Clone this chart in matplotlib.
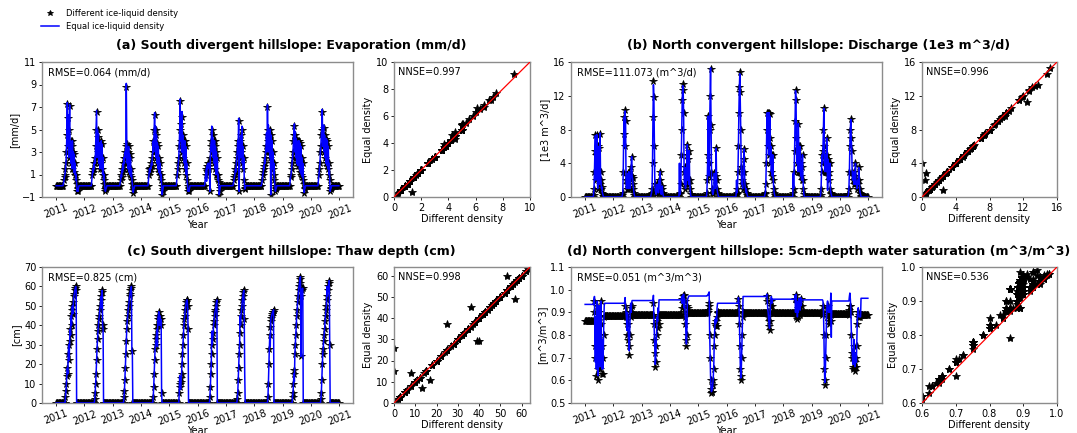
import numpy as np
import matplotlib
matplotlib.use("Agg")
import matplotlib.pyplot as plt

plt.rcParams['font.family'] = ['DejaVu Sans']
plt.rcParams['font.size'] = 7

YEARS = [2011, 2012, 2013, 2014, 2015, 2016, 2017, 2018, 2019, 2020]
# day-of-year of the readings taken through each warm season (every 6 days)
SUMMER_DAYS = list(range(102, 295, 6))
# winter readings sit on a flat level (before / after each season)
WINTER_PRE = list(range(0, 96, 8))
WINTER_POST = list(range(302, 366, 8))

# (a) evaporation, mm/d  -- "different density" run
evap_diff = [
    [0.5, 0.8, 1.0, 1.5, 2.0, 3.0, 4.5, 7.3, 3.5, 6.0, 2.5, 5.0, 7.1, 3.0, 4.0, 2.0, 3.5, 1.5, 4.0, 2.0, 3.0, 1.2, 2.8, 1.0, 2.0, 0.5, 1.0, 0.2, -0.5, -0.3, -0.5, -0.2, 0.0],
    [1.0, 1.5, 1.2, 2.0, 1.5, 2.5, 2.0, 3.5, 5.0, 6.6, 2.5, 5.0, 3.0, 4.3, 2.0, 3.8, 1.5, 3.5, 2.0, 4.0, 1.5, 3.7, 1.0, 2.5, 0.5, 1.0, 0.2, -0.3, -0.5, -0.3, -0.2, 0.0, 0.0],
    [0.5, 1.0, 0.8, 1.5, 1.2, 2.0, 1.5, 2.5, 2.0, 3.0, 2.5, 3.5, 8.8, 3.7, 2.0, 3.0, 1.5, 3.5, 1.2, 2.8, 1.0, 2.5, 0.8, 1.5, 0.5, 0.2, -0.4, -0.6, -0.3, -0.2, 0.0, 0.0, 0.0],
    [1.0, 1.5, 1.2, 1.6, 1.5, 2.0, 1.8, 2.5, 3.0, 4.0, 3.0, 5.0, 6.3, 3.5, 5.0, 2.5, 4.5, 2.0, 3.8, 1.5, 3.5, 1.2, 2.5, 1.0, 2.0, 0.5, 1.0, 0.0, -0.8, -0.5, -0.3, 0.0, 0.0],
    [1.0, 1.5, 2.0, 2.5, 3.5, 5.0, 7.5, 4.0, 5.5, 3.0, 6.1, 3.0, 4.5, 2.5, 4.0, 2.0, 4.0, 1.5, 3.5, 1.0, 2.0, 0.5, 0.0, -0.5, -0.3, -0.5, -0.2, 0.0, 0.0, 0.0, 0.0, 0.0, 0.0],
    [1.0, 1.5, 1.3, 1.8, 1.5, 2.0, 1.8, 2.0, 1.5, -0.5, 2.5, 3.5, 4.0, 5.0, 3.0, 4.5, 2.5, 4.0, 2.0, 4.0, 1.5, 3.5, 1.0, 3.0, 1.0, 2.5, 0.5, 1.0, 0.3, -0.8, -0.5, -0.2, 0.0],
    [0.5, 0.8, 1.0, 1.5, 1.2, 2.0, 2.5, 3.0, 4.0, 3.5, 5.8, -0.5, 3.0, 4.0, 2.5, 4.5, 3.0, 5.0, 2.0, 3.5, 1.5, 2.5, 0.5, -0.3, -0.2, 0.0, 0.0, 0.0, 0.0, 0.0, 0.0, 0.0, 0.0],
    [0.5, 1.0, 1.2, 1.8, 1.5, 2.5, 2.0, 3.0, 3.5, 4.5, 3.0, 7.0, 4.0, 5.0, 3.0, 4.5, 2.5, 5.0, -0.8, 4.5, 2.0, 4.0, 1.5, 3.0, 1.0, 2.0, 0.5, 0.0, -0.5, -0.3, -0.2, 0.0, 0.0],
    [0.8, 1.0, 1.5, 2.0, 2.5, 3.0, 4.0, 4.5, 5.3, 3.0, 4.5, 2.5, 4.2, 2.0, 3.5, 1.8, 4.0, 2.0, 4.0, 1.5, 3.8, 1.2, 3.5, 1.0, 2.5, 0.8, 2.0, 0.5, 0.2, -0.6, -0.3, -0.2, 0.0],
    [1.0, 1.5, 2.0, 3.0, 3.5, 4.5, 5.0, 6.6, 3.5, 4.5, 5.1, 3.0, 4.5, 2.5, 4.0, 2.0, 4.2, 1.8, 4.0, 1.5, 3.5, 1.0, 2.0, 0.5, -0.5, -0.3, -0.2, 0.0, 0.0, 0.0, 0.0, 0.0, 0.0],
]
# readings where the "equal density" run differs: (year, reading index, value)
evap_equal_edits = [
    (2011, 7, 7.4), (2011, 9, 6.3), (2011, 12, 7.2), (2012, 9, 6.7), (2012, 13, 4.6),
    (2013, 12, 9.1), (2013, 13, 3.9), (2014, 12, 6.5), (2014, 14, 5.3), (2015, 6, 7.7),
    (2015, 8, 5.8), (2015, 10, 6.6), (2016, 2, 0.4), (2016, 13, 5.3), (2016, 15, 4.3),
    (2017, 10, 6.0), (2017, 17, 5.3), (2018, 9, 4.7), (2018, 11, 7.2), (2018, 13, 5.4),
    (2019, 8, 5.5), (2019, 10, 4.8), (2020, 7, 6.8), (2020, 10, 5.4),
]
evap_level = [0.0, 0.0, 0.0, 0.0, 0.0, 0.0, 0.0, 0.0, 0.0, 0.0, 0.0]

# (b) discharge, 1e3 m^3/d
disc_diff = [
    [0, 0.2, 1.0, 3.0, 5.5, 7.3, 2.0, 5.0, 7.4, 3.0, 1.0, 6.0, 2.0, 5.8, 1.5, 7.5, 3.0, 2.0, 1.0, 1.2, 0.5, 0.3, 0.1, 0, 0, 0, 0, 0, 0, 0, 0, 0, 0],
    [0, 0, 0.2, 0.5, 3.0, 7.5, 9.5, 6.0, 10.3, 9.0, 2.0, 1.0, 2.5, 1.5, 2.8, 1.0, 3.0, 1.2, 2.5, 1.0, 2.0, 3.5, 4.8, 2.5, 2.2, 1.5, 1.0, 0.5, 0.2, 0, 0, 0, 0],
    [0, 0, 0, 0.3, 0.5, 1.0, 4.0, 9.5, 13.7, 11.8, 6.0, 1.5, 0.8, 0.5, 0.3, 0.5, 1.5, 0.8, 1.5, 0.5, 2.0, 1.0, 3.0, 2.0, 0.5, 0.3, 1.0, 1.3, 0.5, 0.2, 0, 0, 0],
    [0, 0, 0, 0, 0.3, 0.5, 1.5, 5.0, 8.0, 11.5, 13.4, 12.7, 10.0, 3.0, 1.5, 3.5, 1.0, 2.0, 1.5, 5.0, 6.2, 2.0, 4.5, 1.5, 5.5, 2.0, 1.0, 0.3, 0, 0, 0, 0, 0],
    [0, 0.5, 2.0, 5.0, 9.6, 4.0, 2.5, 8.0, 12.0, 15.2, 8.5, 3.0, 1.0, 0.5, 0.3, 0.5, 1.0, 2.8, 2.0, 1.0, 2.5, 5.8, 2.0, 1.0, 0.5, 0.3, 0, 0, 0, 0, 0, 0, 0],
    [0, 0, 0, 0.2, 0.3, 0.5, 1.0, 3.0, 6.0, 10.0, 13.0, 14.8, 12.5, 8.0, 3.5, 1.5, 2.0, 1.0, 3.0, 4.5, 5.7, 3.0, 1.5, 1.0, 0.5, 1.0, 0.5, 0.2, 0, 0, 0, 0, 0],
    [0, 0, 0, 0, 0.3, 0.5, 1.5, 4.0, 8.0, 10.0, 6.0, 10.0, 5.0, 10.0, 7.0, 9.8, 4.0, 6.0, 3.0, 5.0, 2.5, 5.0, 2.0, 1.0, 0.5, 0.2, 0, 0, 0, 0, 0, 0, 0],
    [0, 0, 0, 0, 0.5, 1.0, 3.0, 5.5, 9.0, 12.7, 11.5, 7.0, 4.0, 5.5, 3.0, 8.7, 6.0, 3.0, 5.0, 6.0, 2.5, 4.0, 2.0, 3.5, 5.0, 2.0, 1.0, 0.3, 0, 0, 0, 0, 0],
    [0, 0, 0.2, 1.0, 3.0, 5.0, 4.0, 5.5, 8.0, 10.5, 6.0, 3.0, 4.5, 5.0, 3.0, 7.0, 5.0, 2.5, 4.5, 2.0, 4.0, 3.0, 4.0, 1.0, 0.5, 0.3, 0, 0, 0, 0, 0, 0, 0],
    [0, 0.3, 1.0, 3.0, 6.0, 8.0, 9.3, 7.0, 5.5, 3.0, 2.0, 2.5, 3.0, 1.5, 2.5, 1.5, 4.0, 2.0, 1.8, 1.0, 1.5, 2.0, 1.5, 3.5, 2.0, 1.0, 0.5, 0.3, 0.1, 0, 0, 0, 0],
]
disc_equal_edits = [
    (2011, 15, 7.6), (2012, 8, 10.2), (2013, 8, 13.3), (2014, 3, 4.0), (2014, 10, 13.2),
    (2015, 9, 15.3), (2016, 4, 2.0), (2016, 11, 14.6), (2016, 12, 11.3), (2017, 15, 9.6),
    (2018, 4, 2.8), (2018, 9, 12.6), (2019, 17, 0.8), (2020, 6, 9.2),
]
disc_level = [0, 0, 0, 0, 0, 0, 0, 0, 0, 0, 0]

# (c) thaw depth, cm
thaw_diff = [
    [0, 0, 0, 3, 6, 10, 14, 18, 15, 25, 30, 22, 32, 38, 35, 45, 40, 48, 50, 46, 52, 55, 56, 58, 59, 60, 58, 0, 0, 0, 0, 0, 0],
    [0, 0, 0, 0, 0, 2, 5, 10, 15, 22, 28, 33, 37, 40, 43, 45, 48, 50, 53, 55, 57, 58, 40, 38, 0, 0, 0, 0, 0, 0, 0, 0, 0],
    [0, 0, 0, 0, 0, 0, 0, 3, 6, 12, 18, 25, 32, 38, 42, 45, 48, 50, 52, 55, 56, 58, 59, 60, 27, 0, 0, 0, 0, 0, 0, 0, 0],
    [0, 0, 0, 0, 0, 0, 0, 0, 0, 3, 8, 15, 22, 28, 30, 33, 35, 38, 40, 43, 45, 47, 40, 45, 43, 40, 43, 5, 0, 0, 0, 0, 0],
    [0, 0, 0, 0, 5, 8, 10, 13, 11, 15, 20, 25, 30, 35, 40, 43, 45, 48, 50, 52, 53, 53, 50, 38, 0, 0, 0, 0, 0, 0, 0, 0, 0],
    [0, 0, 0, 0, 0, 0, 0, 0, 0, 3, 8, 15, 20, 25, 30, 33, 36, 40, 42, 45, 47, 48, 50, 52, 53, 0, 0, 0, 0, 0, 0, 0, 0],
    [0, 0, 0, 0, 0, 0, 0, 2, 5, 12, 18, 25, 30, 36, 40, 45, 48, 50, 53, 55, 57, 58, 43, 0, 0, 0, 0, 0, 0, 0, 0, 0, 0],
    [0, 0, 0, 0, 0, 0, 0, 0, 0, 0, 0, 0, 3, 10, 20, 28, 35, 39, 42, 44, 45, 46, 47, 47, 48, 0, 0, 0, 0, 0, 0, 0, 0],
    [0, 0, 0, 0, 3, 5, 10, 15, 17, 25, 30, 35, 40, 45, 48, 52, 55, 58, 60, 62, 64, 65, 24, 55, 58, 59, 59, 0, 0, 0, 0, 0, 0],
    [0, 0, 0, 0, 2, 5, 12, 20, 25, 28, 32, 35, 38, 42, 45, 48, 50, 53, 55, 58, 60, 62, 63, 30, 0, 0, 0, 0, 0, 0, 0, 0, 0],
]
thaw_equal_edits = [
    (2012, 20, 49), (2013, 25, 26), (2014, 18, 29), (2015, 5, 14), (2015, 7, 7),
    (2016, 13, 37), (2017, 13, 45), (2017, 23, 15), (2018, 17, 29), (2019, 8, 11),
    (2020, 17, 60),
]
thaw_level = [0, 0, 0, 0, 0, 0, 0, 0, 0, 0, 0]

# (d) 5cm-depth water saturation, m^3/m^3
sat_diff = [
    [0.86, 0.86, 0.90, 0.95, 0.75, 0.70, 0.85, 0.62, 0.75, 0.93, 0.65, 0.60, 0.80, 0.90, 0.70, 0.65, 0.85, 0.95, 0.70, 0.63, 0.75, 0.63, 0.70, 0.80, 0.88] + [0.885] * 8,
    [0.885] * 7 + [0.89, 0.93, 0.90, 0.88, 0.85, 0.80, 0.88, 0.85, 0.78, 0.75, 0.71, 0.80, 0.90, 0.92, 0.88, 0.93, 0.89] + [0.888] * 9,
    [0.888] * 8 + [0.94, 0.85, 0.78, 0.72, 0.66, 0.68, 0.75, 0.80, 0.86, 0.83, 0.88, 0.85] + [0.89] * 13,
    [0.89] * 8 + [0.96, 0.92, 0.97, 0.94, 0.975, 0.90, 0.95, 0.88, 0.85, 0.78, 0.75, 0.80, 0.93, 0.90, 0.92] + [0.895] * 10,
    [0.895, 0.895, 0.90, 0.90, 0.91, 0.93, 0.94, 0.80, 0.70, 0.60, 0.56, 0.545, 0.55, 0.55, 0.58, 0.60, 0.65, 0.75, 0.80, 0.85, 0.84, 0.86, 0.84, 0.88, 0.90] + [0.898] * 8,
    [0.898] * 8 + [0.96, 0.93, 0.85, 0.75, 0.65, 0.60, 0.62, 0.70, 0.80, 0.88, 0.90] + [0.897] * 14,
    [0.897] * 8 + [0.97, 0.95, 0.90, 0.88, 0.86, 0.84, 0.82, 0.86, 0.90, 0.93, 0.95, 0.90, 0.93] + [0.897] * 12,
    [0.897] * 8 + [0.96, 0.88, 0.975, 0.90, 0.94, 0.87, 0.92, 0.88, 0.95, 0.90, 0.93, 0.89, 0.96, 0.90, 0.93] + [0.895] * 10,
    [0.895] * 6 + [0.89, 0.93, 0.90, 0.80, 0.65, 0.58, 0.60, 0.70, 0.80, 0.88, 0.92, 0.93, 0.90, 0.85, 0.89, 0.86, 0.90, 0.88, 0.89, 0.86] + [0.892] * 7,
    [0.892, 0.892, 0.89, 0.91, 0.93, 0.93, 0.90, 0.80, 0.72, 0.70, 0.66, 0.65, 0.70, 0.75, 0.68, 0.64, 0.66, 0.70, 0.66, 0.75, 0.85, 0.88, 0.90, 0.88, 0.89, 0.88, 0.89] + [0.89] * 6,
]
sat_equal = [
    [0.935, 0.935, 0.95, 0.97, 0.78, 0.68, 0.88, 0.65, 0.78, 0.95, 0.67, 0.62, 0.82, 0.93, 0.72, 0.66, 0.88, 0.95, 0.72, 0.65, 0.78, 0.65, 0.73, 0.85, 0.93] + [0.94] * 8,
    [0.94] * 7 + [0.945, 0.965, 0.92, 0.90, 0.87, 0.82, 0.90, 0.87, 0.80, 0.77, 0.73, 0.82, 0.92, 0.94, 0.90, 0.94, 0.952] + [0.952] * 9,
    [0.952] * 8 + [0.975, 0.87, 0.80, 0.74, 0.67, 0.70, 0.77, 0.82, 0.88, 0.86, 0.92, 0.90] + [0.955] * 13,
    [0.955] * 8 + [0.97, 0.94, 0.975, 0.95, 0.98, 0.92, 0.96, 0.90, 0.87, 0.80, 0.76, 0.82, 0.95, 0.96, 0.965] + [0.972] * 10,
    [0.972, 0.972, 0.975, 0.975, 0.98, 0.985, 0.99, 0.82, 0.72, 0.62, 0.57, 0.55, 0.56, 0.56, 0.59, 0.62, 0.67, 0.78, 0.83, 0.87, 0.85, 0.88, 0.86, 0.92, 0.94] + [0.94] * 8,
    [0.94] * 8 + [0.965, 0.95, 0.87, 0.77, 0.67, 0.61, 0.63, 0.72, 0.83, 0.92, 0.97] + [0.97] * 14,
    [0.97] * 8 + [0.98, 0.96, 0.92, 0.90, 0.87, 0.85, 0.83, 0.88, 0.93, 0.95, 0.97, 0.94, 0.958] + [0.958] * 12,
    [0.958] * 8 + [0.975, 0.90, 0.98, 0.92, 0.95, 0.88, 0.93, 0.90, 0.96, 0.92, 0.94, 0.91, 0.965, 0.93, 0.95] + [0.955] * 10,
    [0.955] * 6 + [0.955, 0.95, 0.92, 0.82, 0.67, 0.59, 0.62, 0.72, 0.83, 0.90, 0.94, 0.95, 0.93, 0.90, 0.92, 0.90, 0.93, 0.92, 0.985, 0.79] + [0.95] * 7,
    [0.95, 0.95, 0.95, 0.97, 0.985, 0.96, 0.92, 0.82, 0.74, 0.72, 0.68, 0.67, 0.72, 0.78, 0.70, 0.66, 0.68, 0.72, 0.68, 0.78, 0.87, 0.90, 0.92, 0.89, 0.88, 0.88, 0.88, 0.88] + [0.962] * 5,
]
sat_level_diff = [0.86, 0.885, 0.888, 0.89, 0.895, 0.898, 0.897, 0.897, 0.895, 0.892, 0.89]
sat_level_equal = [0.935, 0.94, 0.952, 0.955, 0.972, 0.94, 0.97, 0.958, 0.955, 0.95, 0.962]


def apply_edits(rows, edits):
    """ Copy the rows and put in the readings that differ """
    rows = [list(r) for r in rows]
    for yr, i, v in edits:
        rows[YEARS.index(yr)][i] = v
    return rows


evap_equal = apply_edits(evap_diff, evap_equal_edits)
disc_equal = apply_edits(disc_diff, disc_equal_edits)
thaw_equal = apply_edits(thaw_diff, thaw_equal_edits)

panels = [
    dict(title="(a) South divergent hillslope: Evaporation (mm/d)", diff=evap_diff, equal=evap_equal,
         lev_d=evap_level, lev_e=evap_level, ylabel="[mm/d]", ylim=(-1, 11), yticks=[-1, 1, 3, 5, 7, 9, 11],
         rmse="RMSE=0.064 (mm/d)", nnse="NNSE=0.997", slim=(0, 10), sticks=[0, 2, 4, 6, 8, 10]),
    dict(title="(b) North convergent hillslope: Discharge (1e3 m^3/d)", diff=disc_diff, equal=disc_equal,
         lev_d=disc_level, lev_e=disc_level, ylabel="[1e3 m^3/d]", ylim=(0, 16), yticks=[0, 4, 8, 12, 16],
         rmse="RMSE=111.073 (m^3/d)", nnse="NNSE=0.996", slim=(0, 16), sticks=[0, 4, 8, 12, 16]),
    dict(title="(c) South divergent hillslope: Thaw depth (cm)", diff=thaw_diff, equal=thaw_equal,
         lev_d=thaw_level, lev_e=thaw_level, ylabel="[cm]", ylim=(0, 70), yticks=[0, 10, 20, 30, 40, 50, 60, 70],
         rmse="RMSE=0.825 (cm)", nnse="NNSE=0.998", slim=(0, 64), sticks=[0, 10, 20, 30, 40, 50, 60]),
    dict(title="(d) North convergent hillslope: 5cm-depth water saturation (m^3/m^3)", diff=sat_diff, equal=sat_equal,
         lev_d=sat_level_diff, lev_e=sat_level_equal, ylabel="[m^3/m^3]", ylim=(0.5, 1.1),
         yticks=[0.5, 0.6, 0.7, 0.8, 0.9, 1.0, 1.1],
         rmse="RMSE=0.051 (m^3/m^3)", nnse="NNSE=0.536", slim=(0.6, 1.0), sticks=[0.6, 0.7, 0.8, 0.9, 1.0]),
]


def build_series(season_vals, levels):
    """ Put the seasonal readings and the flat winter levels on one decimal-year axis """
    xs, ys = [], []
    for i, yr in enumerate(YEARS):
        assert len(season_vals[i]) == len(SUMMER_DAYS), (yr, len(season_vals[i]))
        for d in WINTER_PRE:
            xs.append(yr + d / 365.0)
            ys.append(levels[i])
        for d, v in zip(SUMMER_DAYS, season_vals[i]):
            xs.append(yr + d / 365.0)
            ys.append(v)
        for d in WINTER_POST:
            xs.append(yr + d / 365.0)
            ys.append(levels[i + 1])
    return np.array(xs), np.array(ys)


W, H = 1077, 433
fig = plt.figure(figsize=(W / 100, H / 100), dpi=100)


def px_axes(x0, y0, x1, y1):
    return fig.add_axes([x0 / W, 1 - y1 / H, (x1 - x0) / W, (y1 - y0) / H])


# pixel boxes of the axes (left, top, right, bottom)
ts_boxes = [(42, 62, 353, 197), (571, 62, 882, 197), (42, 267, 353, 403), (571, 267, 882, 403)]
sc_boxes = [(394, 62, 530, 197), (922, 62, 1057, 197), (394, 267, 530, 403), (922, 267, 1057, 403)]
title_pos = [(291, 46), (819, 46), (291, 252), (819, 252)]

SPINE = '#8c8c8c'

for n, (p, tb, sb, tp) in enumerate(zip(panels, ts_boxes, sc_boxes, title_pos)):
    xd, yd = build_series(p['diff'], p['lev_d'])
    xe, ye = build_series(p['equal'], p['lev_e'])

    ax = px_axes(*tb)
    ax.plot(xd, yd, '*', color='k', ms=5.5, mew=0.6, label='Different ice-liquid density', zorder=2)
    ax.plot(xe, ye, '-', color='#0000ff', lw=1.1, label='Equal ice-liquid density', zorder=3)
    ax.set_ylim(*p['ylim'])
    ax.set_yticks(p['yticks'])
    ax.set_xticks(range(2011, 2022))
    ax.set_xticklabels([str(y) for y in range(2011, 2022)], rotation=20)
    ax.set_ylabel(p['ylabel'], labelpad=2)
    ax.set_xlabel('Year', labelpad=0)
    ax.text(0.02, 0.925, p['rmse'], transform=ax.transAxes, va='center', ha='left')

    sx = px_axes(*sb)
    sx.plot(yd, ye, '*', color='k', ms=6, mew=0.6, zorder=2)
    sx.set_xlim(*p['slim'])
    sx.set_ylim(*p['slim'])
    lo, hi = sx.get_xlim()
    sx.plot([lo, hi], [lo, hi], '-', color='red', lw=0.9, zorder=3)
    sx.set_xticks(p['sticks'])
    sx.set_yticks(p['sticks'])
    sx.set_xlabel('Different density', labelpad=1)
    sx.set_ylabel('Equal density', labelpad=2)
    sx.text(0.03, 0.925, p['nnse'], transform=sx.transAxes, va='center', ha='left')

    for a in (ax, sx):
        for s in a.spines.values():
            s.set_color(SPINE)
            s.set_linewidth(1.0)
        a.tick_params(length=2.5, width=0.6, pad=1.5, labelsize=7)

    fig.text(tp[0] / W, 1 - tp[1] / H, p['title'], ha='center', va='center', fontsize=9, fontweight='bold')

    if n == 0:
        handles, labels = ax.get_legend_handles_labels()
        fig.legend(handles, labels, loc='upper left', bbox_to_anchor=(41 / W, 1 - 9 / H),
                   frameon=False, fontsize=6, borderpad=0, handlelength=2.2, handletextpad=0.8,
                   labelspacing=0.5, borderaxespad=0, markerscale=0.8)

fig.savefig('out.png', dpi=100)
